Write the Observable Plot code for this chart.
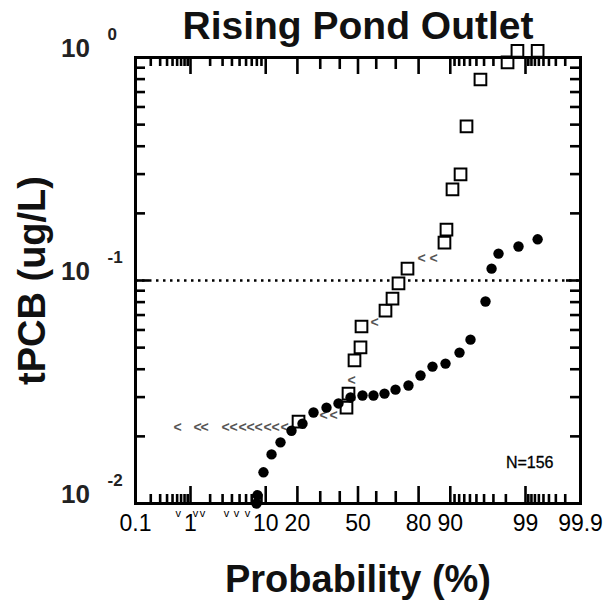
<!DOCTYPE html>
<html><head><meta charset="utf-8">
<script src="https://cdn.jsdelivr.net/npm/d3@7"></script>
<script src="https://cdn.jsdelivr.net/npm/@observablehq/plot@0.6"></script>
<style>body{margin:0;background:#fff}</style>
</head><body><div id="chart"></div>
<script>
// ---- data (probability %, tPCB ug/L) ----
const circleProb  = [7.93, 8.14, 9.46, 11.49, 14.09, 17.78, 22.04, 26.83, 33.09, 39.32, 45.86, 52.49, 58.51, 64.36, 69.88, 75.84, 80.73, 84.96, 88.79, 92.07, 94.09, 96.17, 96.82, 97.45, 98.71, 99.37];
const circleValue = [0.0100, 0.0109, 0.0138, 0.0166, 0.0188, 0.0212, 0.0228, 0.0256, 0.0269, 0.0281, 0.0299, 0.0305, 0.0305, 0.0311, 0.0324, 0.0338, 0.0375, 0.0411, 0.0424, 0.0475, 0.0543, 0.0805, 0.113, 0.132, 0.142, 0.153];
const squareProb  = [20.44, 43.65, 44.75, 48.06, 51.38, 51.94, 64.87, 68.41, 71.31, 75.41, 88.51, 89.04, 90.53, 92.28, 93.41, 95.55, 98.11, 98.66, 99.37];
const squareValue = [0.0233, 0.0269, 0.0311, 0.0438, 0.0501, 0.0622, 0.0733, 0.0830, 0.0970, 0.113, 0.148, 0.169, 0.256, 0.299, 0.491, 0.797, 0.950, 1.07, 1.07];
const ltProb  = [0.61, 1.29, 1.65, 3.29, 4.19, 5.43, 6.77, 8.35, 10.44, 12.59, 15.37, 31.59, 36.69, 46.41, 59.06, 81.11, 85.28];
const ltValue = [0.0219, 0.0219, 0.0219, 0.0219, 0.0219, 0.0219, 0.0219, 0.0219, 0.0219, 0.0219, 0.0219, 0.0248, 0.0248, 0.0356, 0.0648, 0.1256, 0.1256];
const belowProb = [0.63, 1.20, 1.54, 3.39, 4.58, 6.24];
const xTickLabels = [0.1, 1, 10, 20, 50, 80, 90, 99, 99.9];
const xMidTicks = [30, 40, 60, 70];
const xMinorTicks = [0.2,0.3,0.4,0.5,0.6,0.7,0.8,0.9, 2,3,4,5,6,7,8,9, 91,92,93,94,95,96,97,98, 99.1,99.2,99.3,99.4,99.5,99.6,99.7,99.8];
const yLabelValues = [1, 0.1, 0.01];
const yLabelExp = ["0", "-1", "-2"];
const yMinorTicks = [0.02,0.03,0.04,0.05,0.06,0.07,0.08,0.09, 0.2,0.3,0.4,0.5,0.6,0.7,0.8,0.9];
const yMajorTicks = [0.1];
const titleText = "Rising Pond Outlet";
const yTitle = "tPCB (ug/L)";
const xTitle = "Probability (%)";
const nText = "N=156";

// inverse normal CDF (probability scale transform)
function probit(p) {
  const a=[-3.969683028665376e+01,2.209460984245205e+02,-2.759285104469687e+02,1.383577518672690e+02,-3.066479806614716e+01,2.506628277459239e+00];
  const b=[-5.447609879822406e+01,1.615858368580409e+02,-1.556989798598866e+02,6.680131188771972e+01,-1.328068155288572e+01];
  const c=[-7.784894002430293e-03,-3.223964580411365e-01,-2.400758277161838e+00,-2.549732539343734e+00,4.374664141464968e+00,2.938163982698783e+00];
  const d=[7.784695709041462e-03,3.224671290700398e-01,2.445134137142996e+00,3.754408661907416e+00];
  const pl=0.02425, ph=1-pl;
  if (p<pl){const q=Math.sqrt(-2*Math.log(p)); return (((((c[0]*q+c[1])*q+c[2])*q+c[3])*q+c[4])*q+c[5])/((((d[0]*q+d[1])*q+d[2])*q+d[3])*q+1);}
  if (p<=ph){const q=p-0.5, r=q*q; return (((((a[0]*r+a[1])*r+a[2])*r+a[3])*r+a[4])*r+a[5])*q/(((((b[0]*r+b[1])*r+b[2])*r+b[3])*r+b[4])*r+1);}
  const q=Math.sqrt(-2*Math.log(1-p)); return -(((((c[0]*q+c[1])*q+c[2])*q+c[3])*q+c[4])*q+c[5])/((((d[0]*q+d[1])*q+d[2])*q+d[3])*q+1);
}
const px = pct => probit(pct / 100);

const circles = circleProb.map((p, i) => ({p, v: circleValue[i]}));
const squares = squareProb.map((p, i) => ({p, v: squareValue[i]}));
const lts = ltProb.map((p, i) => ({p, v: ltValue[i]}));
const yLabs = yLabelValues.map((v, i) => ({v, e: yLabelExp[i]}));

const W = 610, H = 607, mT = 57, mB = 104, mL = 135, mR = 30;
const PH = H - mT - mB, PW = W - mL - mR;
const font = "Liberation Sans, Arial, Helvetica, sans-serif";
const tw = 2.6;

function xTicks(vals, len) {
  return [
    Plot.ruleX(vals, {x: px, insetTop: PH - len, stroke: "black", strokeWidth: tw}),
    Plot.ruleX(vals, {x: px, insetBottom: PH - len, stroke: "black", strokeWidth: tw})
  ];
}
function yTicks(vals, len) {
  return [
    Plot.ruleY(vals, {y: d => d, insetRight: PW - len, stroke: "black", strokeWidth: tw}),
    Plot.ruleY(vals, {y: d => d, insetLeft: PW - len, stroke: "black", strokeWidth: tw})
  ];
}

const chart = Plot.plot({
  width: W, height: H,
  marginTop: mT, marginBottom: mB, marginLeft: mL, marginRight: mR,
  style: {fontFamily: font, background: "white", color: "black"},
  x: {type: "linear", domain: [px(0.1), px(99.9)], axis: null},
  y: {type: "log", domain: [0.01, 1], axis: null},
  marks: [
    ...xTicks(xTickLabels, 17),
    ...xTicks(xMidTicks, 12),
    ...xTicks(xMinorTicks, 9),
    ...yTicks(yMinorTicks, 10),
    ...yTicks(yMajorTicks, 14),
    Plot.ruleY(yMajorTicks, {y: d => d, stroke: "black", strokeWidth: 2.5, strokeDasharray: "2.5,4.5"}),
    Plot.text(lts, {x: d => px(d.p), y: "v", text: () => "<", fill: "#555", fontSize: 14, fontWeight: "bold"}),
    Plot.dot(squares, {x: d => px(d.p), y: "v", symbol: "square", r: 6.6, fill: "white", stroke: "black", strokeWidth: 2}),
    Plot.dot(circles, {x: d => px(d.p), y: "v", r: 5.2, fill: "black", stroke: "none"}),
    Plot.frame({stroke: "black", strokeWidth: 3}),
    Plot.text(belowProb, {x: px, frameAnchor: "bottom", dy: 13, text: () => "v", fontSize: 11, fill: "black"}),
    Plot.text(xTickLabels, {x: px, frameAnchor: "bottom", dy: 27, text: d => String(d), fontSize: 23, fill: "black"}),
    Plot.text(yLabs, {y: "v", frameAnchor: "left", dx: -60, dy: -9, textAnchor: "middle", text: () => "10", fontSize: 26, fontWeight: "bold", fill: "#222"}),
    Plot.text(yLabs, {y: "v", frameAnchor: "left", dx: -28, dy: -23, text: "e", textAnchor: "start", fontSize: 17, fontWeight: "bold", fill: "#222"}),
    Plot.text([titleText], {frameAnchor: "top", dy: -46, text: d => d, fontSize: 39, fontWeight: "bold", fill: "#111"}),
    Plot.text([yTitle], {frameAnchor: "left", dx: -103, rotate: -90, textAnchor: "middle", text: d => d, fontSize: 38, fontWeight: "bold", fill: "#111"}),
    Plot.text([xTitle], {frameAnchor: "bottom", dy: 88, text: d => d, fontSize: 38, fontWeight: "bold", fill: "#111"}),
    Plot.text([nText], {frameAnchor: "bottom-right", dx: -27, dy: -36, text: d => d, textAnchor: "end", fontSize: 16, fill: "black", stroke: "black", strokeWidth: 0.3})
  ]
});
document.getElementById("chart").appendChild(chart);
</script>
</body></html>
